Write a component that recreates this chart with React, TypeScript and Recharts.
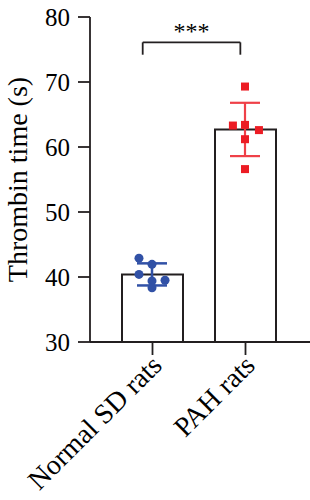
import {
  ComposedChart,
  Bar,
  Scatter,
  ErrorBar,
  XAxis,
  YAxis,
  ReferenceLine,
} from 'recharts';

const groups = ['Normal SD rats', 'PAH rats'];
const groupPos = [1, 2];
const means = [40.4, 62.7];
const sds = [1.7, 4.1];

const normalPoints = [
  { x: 0.86, y: 42.9 },
  { x: 1.0, y: 41.95 },
  { x: 0.86, y: 40.4 },
  { x: 1.14, y: 39.5 },
  { x: 1.0, y: 39.4 },
  { x: 1.0, y: 38.35 },
];

const pahPoints = [
  { x: 2.0, y: 69.3 },
  { x: 1.87, y: 63.3 },
  { x: 2.0, y: 63.4 },
  { x: 2.15, y: 62.6 },
  { x: 2.0, y: 61.2 },
  { x: 2.0, y: 56.6 },
];

const yTicks = [30, 40, 50, 60, 70, 80];

// significance bracket (data units)
const sigLeft = 0.9;
const sigRight = 1.95;
const sigTop = 76.1;
const sigBottom = 74.2;

const BLUE = '#3151a6';
const RED = '#ec1c24';
const INK = '#231f20';
const FONT = '"Liberation Serif", "DejaVu Serif", serif';

const barData = groups.map((name, i) => ({
  name,
  x: groupPos[i],
  mean: means[i],
  sd: sds[i],
}));

// hidden numeric axis lined up with the category band centres
const numDomain = [1 - 62 / 93, 2 + 65 / 93];

function CategoryTick(props: any) {
  const { x, y, payload } = props;
  return (
    <g transform={`translate(${x + 11},${y + 10})`}>
      <text
        x={0}
        y={0}
        textAnchor="end"
        transform="rotate(-45)"
        fontSize={28}
        fontFamily={FONT}
        fill="#000"
      >
        {payload.value}
      </text>
    </g>
  );
}

export default function App() {
  return (
    <div style={{ position: 'absolute', left: 0, top: 0, background: '#fff' }}>
      <ComposedChart
        width={310}
        height={500}
        data={barData}
        margin={{ top: 17, right: 0, bottom: 0, left: 0 }}
      >
        <XAxis
          dataKey="name"
          type="category"
          padding={{ left: 16, right: 18 }}
          height={158}
          tickSize={13}
          tick={<CategoryTick />}
          axisLine={{ stroke: INK, strokeWidth: 1.8 }}
          tickLine={{ stroke: INK, strokeWidth: 1.8 }}
        />
        <XAxis
          xAxisId="num"
          dataKey="x"
          type="number"
          domain={numDomain}
          allowDataOverflow
          hide
        />
        <YAxis
          type="number"
          domain={[30, 80]}
          ticks={yTicks}
          width={90}
          tickSize={12}
          tickMargin={8}
          axisLine={{ stroke: INK, strokeWidth: 1.8 }}
          tickLine={{ stroke: INK, strokeWidth: 1.8 }}
          tick={{ fontSize: 25, fontFamily: FONT, fill: '#000' }}
          label={{
            value: 'Thrombin time (s)',
            angle: -90,
            position: 'insideLeft',
            offset: 17,
            style: { textAnchor: 'middle', fontSize: 28, fontFamily: FONT, fill: '#000' },
          }}
        />
        <Bar
          dataKey="mean"
          barSize={61}
          fill="#fff"
          stroke={INK}
          strokeWidth={2}
          isAnimationActive={false}
        />
        <Scatter
          xAxisId="num"
          data={[barData[0]]}
          dataKey="mean"
          shape={() => <g />}
          isAnimationActive={false}
        >
          <ErrorBar dataKey="sd" direction="y" width={15} stroke={BLUE} strokeWidth={2.5} />
        </Scatter>
        <Scatter
          xAxisId="num"
          data={[barData[1]]}
          dataKey="mean"
          shape={() => <g />}
          isAnimationActive={false}
        >
          <ErrorBar dataKey="sd" direction="y" width={15} stroke="#ef4048" strokeWidth={2.2} />
        </Scatter>
        <Scatter
          xAxisId="num"
          data={normalPoints}
          dataKey="y"
          fill={BLUE}
          shape={(p: any) => <circle cx={p.cx} cy={p.cy} r={4.5} fill={BLUE} />}
          isAnimationActive={false}
        />
        <Scatter
          xAxisId="num"
          data={pahPoints}
          dataKey="y"
          fill={RED}
          shape={(p: any) => (
            <rect x={p.cx - 4} y={p.cy - 4} width={8} height={8} fill={RED} />
          )}
          isAnimationActive={false}
        />
        <ReferenceLine
          xAxisId="num"
          ifOverflow="visible"
          segment={[
            { x: sigLeft, y: sigTop },
            { x: sigRight, y: sigTop },
          ]}
          stroke={INK}
          strokeWidth={1.8}
          label={{
            value: '***',
            position: 'top',
            offset: 3,
            fontSize: 24,
            fontFamily: FONT,
            fill: '#000',
          }}
        />
        <ReferenceLine
          xAxisId="num"
          ifOverflow="visible"
          segment={[
            { x: sigLeft, y: sigTop },
            { x: sigLeft, y: sigBottom },
          ]}
          stroke={INK}
          strokeWidth={1.8}
        />
        <ReferenceLine
          xAxisId="num"
          ifOverflow="visible"
          segment={[
            { x: sigRight, y: sigTop },
            { x: sigRight, y: sigBottom },
          ]}
          stroke={INK}
          strokeWidth={1.8}
        />
      </ComposedChart>
    </div>
  );
}
